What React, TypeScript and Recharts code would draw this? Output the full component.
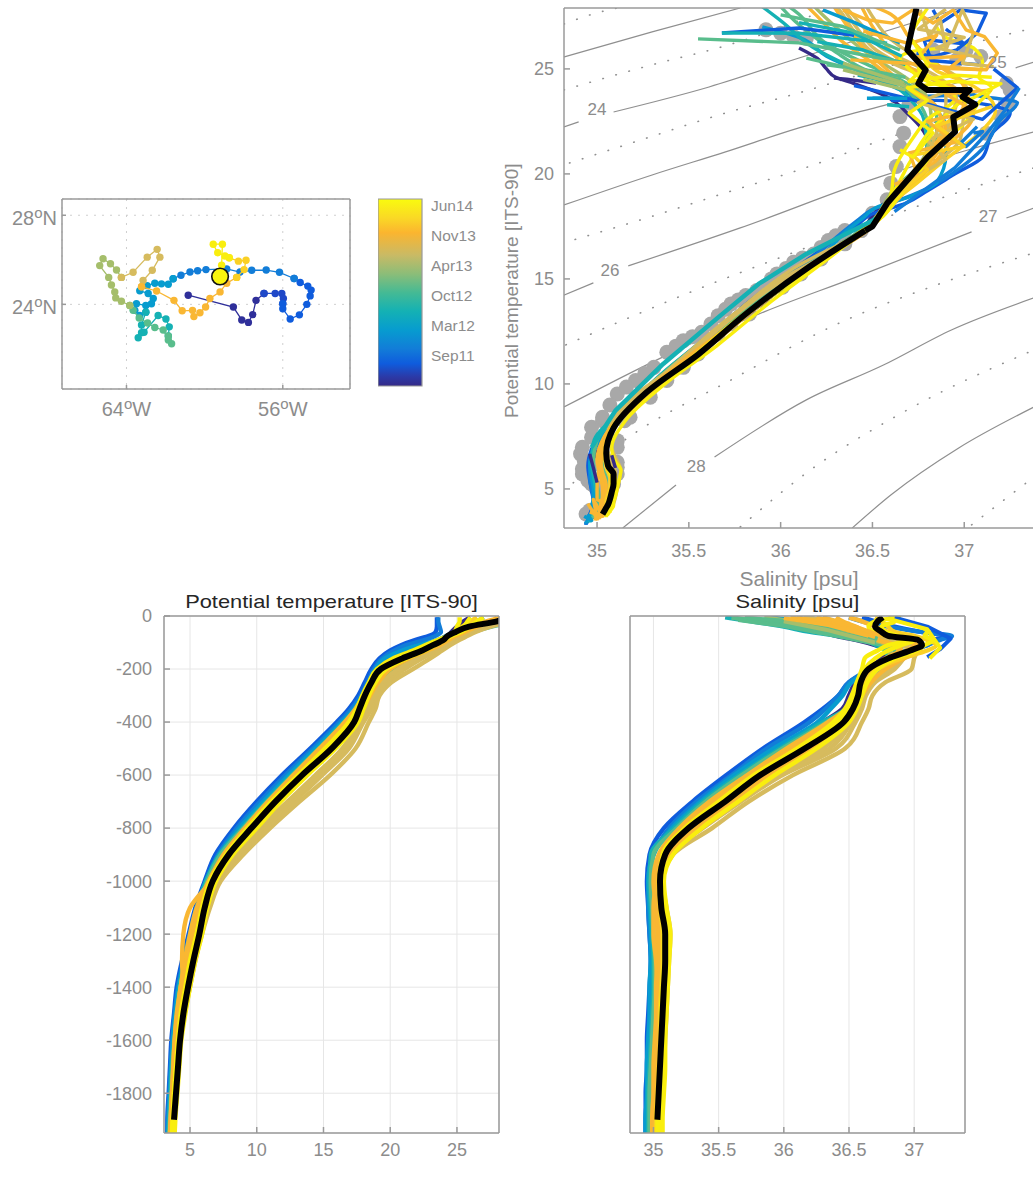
import {
  Bar,
  BarChart,
  CartesianGrid,
  ComposedChart,
  Line,
  ReferenceDot,
  Scatter,
  XAxis,
  YAxis,
} from "recharts";

const FONT = '"Liberation Sans", Arial, sans-serif';
const GREY = "#8c8c8c";
const AXIS = "#9a9a9a";

const PURPLE = "#352a87";
const BLUE = "#0f5cdd";
const AZURE = "#127dd8";
const CYAN = "#079ccf";
const TEAL = "#15b1b4";
const GREEN = "#59bd8c";
const SAGE = "#a5be6b";
const TAN = "#d6bb5e";
const ORANGE = "#f9b733";
const GOLD = "#fad025";
const YELLOW = "#f9ee0e";

type Pt = [number, number];

// colorbar
const cbarStops = [
  [0, "#f9fb0e"],
  [0.1, "#fad925"],
  [0.18, "#fbb52f"],
  [0.3, "#c9ba65"],
  [0.4, "#8cbd78"],
  [0.5, "#45ba94"],
  [0.6, "#14b1b4"],
  [0.7, "#079ccf"],
  [0.8, "#127dd8"],
  [0.88, "#0f5cdd"],
  [0.95, "#2b3aa8"],
  [1, "#352a87"],
] as const;
const cbarTicks = [200, 400, 600, 800, 1000, 1200];
const cbarLabels = ["Sep11", "Mar12", "Oct12", "Apr13", "Nov13", "Jun14"];

// float track, lon / lat
const trackPurple: Pt[] = [[-60.84, 24.41], [-58.53, 23.88], [-58.1, 23.3], [-57.76, 23.19], [-57.54, 23.54], [-57.37, 24.18], [-56.96, 24.49]];
const trackIndigo: Pt[] = [[-56.96, 24.49], [-56.39, 24.49], [-56.05, 24.49], [-55.97, 24.26], [-56.0, 24.03]];
const trackBlue: Pt[] = [[-56.0, 24.03], [-56.0, 23.8], [-55.62, 23.34], [-55.15, 23.53], [-54.77, 24.0], [-54.6, 24.38], [-54.55, 24.64], [-54.72, 24.82], [-55.11, 24.98], [-55.42, 25.16]];
const trackAzure: Pt[] = [[-55.42, 25.16], [-56.17, 25.44], [-56.85, 25.54], [-57.59, 25.53], [-58.19, 25.45], [-58.87, 25.59], [-59.93, 25.56], [-60.36, 25.51], [-60.75, 25.45], [-61.21, 25.31], [-61.61, 25.15]];
const trackCyan: Pt[] = [[-61.61, 25.15], [-61.86, 24.9], [-62.21, 24.92], [-62.55, 24.95], [-62.94, 24.84], [-63.32, 24.61], [-62.89, 24.49], [-62.63, 24.26], [-62.72, 24.03], [-63.01, 23.95], [-63.49, 24.03], [-63.57, 23.73], [-63.32, 23.5], [-63.01, 23.65]];
const trackTeal: Pt[] = [[-63.01, 23.65], [-63.23, 23.07], [-63.23, 22.73], [-63.4, 22.5], [-63.1, 22.75], [-62.38, 23.5], [-61.98, 23.34], [-61.81, 22.99], [-61.86, 22.58]];
const trackGreen: Pt[] = [[-61.86, 22.58], [-61.69, 22.23], [-61.86, 22.4], [-62.12, 22.85], [-62.55, 22.96], [-62.92, 23.16], [-63.35, 23.39], [-63.66, 23.73], [-63.83, 23.95]];
const trackSage: Pt[] = [[-63.83, 23.95], [-64.26, 24.14], [-64.55, 24.29], [-64.6, 24.56], [-64.77, 24.87], [-64.91, 25.21], [-65.37, 25.74], [-65.2, 26.05], [-64.82, 25.82], [-64.51, 25.54], [-64.26, 25.21]];
const trackTan: Pt[] = [[-64.26, 25.21], [-63.66, 25.44], [-62.94, 26.12], [-62.43, 26.47], [-62.29, 26.12], [-62.68, 25.53], [-63.15, 25.07], [-63.23, 24.79]];
const trackOrange: Pt[] = [[-63.23, 24.79], [-62.46, 24.6], [-61.57, 24.18], [-61.15, 23.71], [-60.62, 23.73], [-60.55, 23.45], [-60.24, 23.62], [-59.95, 23.88], [-59.73, 24.26], [-59.21, 24.56], [-58.87, 24.95], [-58.36, 25.21]];
const trackGold: Pt[] = [[-58.36, 25.21], [-57.98, 25.56], [-57.88, 25.98], [-58.27, 25.94], [-58.74, 26.09]];
const trackYellow: Pt[] = [[-58.74, 26.09], [-58.96, 26.17], [-59.33, 26.32], [-59.56, 26.7], [-59.09, 26.7], [-59.13, 25.76], [-59.21, 25.25]];
const floatNow: Pt[] = [[-59.21, 25.25]];

const trackParts: [Pt[], string][] = [
  [trackPurple, "#2f2f9a"],
  [trackIndigo, "#1f48c8"],
  [trackBlue, BLUE],
  [trackAzure, AZURE],
  [trackCyan, CYAN],
  [trackTeal, TEAL],
  [trackGreen, GREEN],
  [trackSage, SAGE],
  [trackTan, TAN],
  [trackOrange, ORANGE],
  [trackGold, GOLD],
  [trackYellow, YELLOW],
];

// profile levels, m
const depthLevels = [-5, -20, -40, -60, -75, -90, -110, -130, -160, -200, -250, -300, -350, -400, -500, -600, -700, -800, -900, -1000, -1100, -1200, -1300, -1400, -1500, -1600, -1700, -1800, -1900, -1950];

const meanTemp = [29.0, 28.0, 25.9, 24.9, 24.3, 24.0, 23.2, 22.4, 20.9, 19.3, 18.6, 18.1, 17.7, 17.3, 15.6, 13.4, 11.4, 9.6, 7.9, 6.7, 6.1, 5.7, 5.25, 4.85, 4.5, 4.25, 4.1, 3.95, 3.8];
const meanSal = [36.76, 36.72, 36.7, 36.75, 36.8, 37.03, 37.06, 36.97, 36.8, 36.65, 36.59, 36.57, 36.53, 36.46, 36.16, 35.82, 35.55, 35.27, 35.09, 35.05, 35.06, 35.09, 35.09, 35.08, 35.07, 35.06, 35.05, 35.04, 35.03];
// the mean's upper part as it reads on the T-S diagram
const meanTsUpper: Pt[] = [[36.74, 27.9], [36.69, 25.9], [36.79, 24.95], [36.75, 24.3], [36.8, 24.0], [37.03, 24.0], [36.99, 23.67], [37.06, 23.3], [36.94, 22.7], [36.95, 22.0], [36.8, 20.8], [36.58, 18.6], [36.5, 17.5], [36.46, 17.3]];

const tempPurple = [26, 25.5, 25, 24.6, 24.3, 23.8, 22.8, 21.5, 20, 19, 18.5, 18, 17.4, 16.5, 14.5, 12.5, 10.7, 9, 7.4, 6.6, 6.3, 5.8, 5.2, 4.6, 4.2, 3.9, 3.7, 3.6, 3.5, 3.45];
const salPurple = [36.1, 36.2, 36.25, 36.3, 36.4, 36.55, 36.7, 36.8, 36.75, 36.65, 36.55, 36.5, 36.45, 36.3, 36, 35.7, 35.4, 35.18, 35.05, 34.99, 34.97, 34.98, 35, 35, 35, 35, 34.98, 34.97, 34.96, 34.96];
const tempBlue = [23.5, 23.5, 23.5, 23.4, 22.9, 21.9, 20.8, 20.0, 19.2, 18.6, 18.1, 17.6, 16.9, 16.0, 14.0, 11.9, 10.0, 8.3, 6.9, 6.1, 5.4, 4.9, 4.4, 4.0, 3.8, 3.6, 3.5, 3.4, 3.3, 3.3];
const salBlue = [36.6, 36.7, 36.85, 37.05, 37.25, 37.15, 37.1, 36.95, 36.8, 36.68, 36.5, 36.42, 36.3, 36.16, 35.84, 35.56, 35.3, 35.08, 34.97, 34.95, 34.96, 34.97, 34.98, 34.97, 34.96, 34.95, 34.95, 34.94, 34.94, 34.94];
const tempAzure = [23.6, 23.6, 23.7, 23.8, 23.4, 22.6, 21.2, 20.3, 19.4, 18.8, 18.3, 17.8, 17.1, 16.2, 14.2, 12.15, 10.25, 8.5, 7.1, 6.2, 5.5, 5.0, 4.5, 4.1, 3.85, 3.7, 3.55, 3.45, 3.35, 3.3];
const salAzure = [36.5, 36.6, 36.8, 37.05, 37.29, 37.2, 37.1, 36.98, 36.82, 36.66, 36.5, 36.42, 36.32, 36.2, 35.87, 35.6, 35.33, 35.12, 35.0, 34.96, 34.96, 34.97, 34.98, 34.98, 34.97, 34.96, 34.95, 34.95, 34.94, 34.94];
const tempCyan = [27, 26.5, 25.6, 24.8, 24.2, 23.6, 22.2, 20.9, 19.6, 18.9, 18.4, 17.9, 17.3, 16.4, 14.4, 12.4, 10.5, 8.7, 7.2, 6.2, 5.5, 5.0, 4.55, 4.15, 3.9, 3.7, 3.6, 3.5, 3.4, 3.35];
const salCyan = [35.9, 36.1, 36.25, 36.45, 36.6, 36.75, 36.9, 36.9, 36.85, 36.7, 36.52, 36.45, 36.36, 36.26, 35.92, 35.62, 35.36, 35.14, 35.0, 34.96, 34.97, 34.98, 34.98, 34.97, 34.97, 34.96, 34.95, 34.95, 34.94, 34.94];
const tempTeal = [30, 28.9, 27.3, 25.9, 25.0, 24.3, 23.5, 22.6, 20.9, 19.6, 18.9, 18.1, 17.4, 16.5, 14.6, 12.6, 10.7, 8.9, 7.2, 6.2, 5.6, 5.1, 4.6, 4.2, 4.0, 3.8, 3.65, 3.55, 3.45, 3.4];
const salTeal = [35.55, 35.75, 36.0, 36.2, 36.41, 36.6, 36.71, 36.78, 36.8, 36.7, 36.6, 36.55, 36.48, 36.3, 35.97, 35.66, 35.38, 35.16, 34.98, 34.97, 34.98, 34.99, 35.0, 35.0, 34.99, 34.98, 34.97, 34.96, 34.96, 34.96];
const tempGreen2 = [30, 28.8, 27.1, 25.8, 25, 24.4, 23.4, 22.5, 21, 19.7, 19, 18.3, 17.6, 16.7, 14.7, 12.7, 10.8, 9, 7.3, 6.3, 5.7, 5.2, 4.7, 4.3, 4.05, 3.85, 3.7, 3.6, 3.5, 3.45];
const salGreen2 = [35.7, 35.9, 36.1, 36.3, 36.45, 36.62, 36.75, 36.8, 36.82, 36.7, 36.6, 36.55, 36.48, 36.33, 35.99, 35.68, 35.4, 35.18, 35.0, 34.98, 34.99, 35, 35.01, 35.01, 35, 34.99, 34.98, 34.97, 34.97, 34.97];
const tempSage = [30.5, 29.4, 27.6, 26.2, 25.3, 24.5, 23.6, 22.8, 21.5, 20.3, 19.3, 18.6, 18.0, 17.4, 15.4, 13.4, 11.6, 9.9, 8.2, 6.9, 6.1, 5.5, 5.0, 4.6, 4.3, 4.1, 3.9, 3.8, 3.7, 3.65];
const salSage = [35.6, 35.8, 36.1, 36.25, 36.45, 36.65, 36.8, 36.85, 36.85, 36.75, 36.62, 36.59, 36.55, 36.48, 36.13, 35.83, 35.57, 35.32, 35.12, 35.03, 35.03, 35.05, 35.05, 35.05, 35.04, 35.03, 35.02, 35.01, 35.0, 35.0];
const tempSage2 = [30, 29, 27.4, 26.1, 25.3, 24.6, 23.6, 22.7, 21.2, 19.9, 19.1, 18.5, 17.9, 17.1, 15.2, 13.1, 11.3, 9.6, 8, 6.8, 6, 5.4, 4.9, 4.5, 4.2, 4, 3.85, 3.75, 3.65, 3.6];
const salSage2 = [35.85, 36.05, 36.25, 36.42, 36.55, 36.68, 36.8, 36.82, 36.8, 36.7, 36.6, 36.56, 36.52, 36.42, 36.1, 35.78, 35.52, 35.28, 35.1, 35.02, 35.02, 35.04, 35.04, 35.04, 35.03, 35.02, 35.01, 35, 34.99, 34.99];
const tempTan1 = [30, 29, 27.5, 26.4, 25.8, 25.2, 24.5, 23.9, 23.0, 21.7, 20.1, 19.2, 18.9, 18.4, 17.4, 15.5, 13.2, 11.0, 9.0, 7.3, 6.5, 5.9, 5.4, 5.0, 4.6, 4.3, 4.1, 4.0, 3.85, 3.8];
const salTan1 = [36.3, 36.4, 36.5, 36.6, 36.7, 36.85, 36.98, 37.02, 37.0, 36.98, 36.78, 36.68, 36.65, 36.6, 36.47, 36.07, 35.73, 35.45, 35.15, 35.07, 35.1, 35.13, 35.12, 35.11, 35.1, 35.09, 35.08, 35.07, 35.06, 35.06];
const tempTan2 = [29.5, 28.5, 27, 26, 25.4, 24.9, 24.2, 23.5, 22.4, 21.1, 19.7, 19.0, 18.6, 18.0, 16.9, 14.9, 12.8, 10.6, 8.7, 7.1, 6.3, 5.7, 5.2, 4.8, 4.5, 4.25, 4.1, 3.95, 3.8, 3.75];
const salTan2 = [36.2, 36.3, 36.45, 36.55, 36.68, 36.8, 36.92, 36.96, 36.92, 36.85, 36.7, 36.63, 36.6, 36.55, 36.4, 35.99, 35.67, 35.38, 35.12, 35.05, 35.08, 35.1, 35.1, 35.09, 35.08, 35.07, 35.06, 35.05, 35.04, 35.04];
const tempTan3 = [29, 28, 26.8, 25.8, 25.1, 24.6, 23.9, 23.1, 22.0, 20.6, 19.4, 18.8, 18.3, 17.7, 16.4, 14.4, 12.3, 10.2, 8.4, 7.0, 6.2, 5.6, 5.1, 4.7, 4.4, 4.2, 4.05, 3.9, 3.75, 3.7];
const salTan3 = [36.15, 36.3, 36.4, 36.5, 36.65, 36.8, 36.9, 36.9, 36.85, 36.78, 36.65, 36.6, 36.55, 36.5, 36.3, 35.92, 35.62, 35.33, 35.1, 35.04, 35.07, 35.09, 35.08, 35.07, 35.06, 35.05, 35.04, 35.03, 35.02, 35.02];
const tempTan4 = [29.2, 28.3, 26.9, 25.9, 25.2, 24.7, 24, 23.3, 22.2, 20.9, 19.55, 18.9, 18.45, 17.85, 16.65, 14.65, 12.55, 10.4, 8.55, 7.05, 6.25, 5.65, 5.15, 4.75, 4.45, 4.2, 4.05, 3.9, 3.75, 3.7];
const salTan4 = [36.18, 36.3, 36.42, 36.52, 36.66, 36.8, 36.92, 36.95, 36.9, 36.82, 36.68, 36.62, 36.58, 36.52, 36.35, 35.96, 35.65, 35.36, 35.11, 35.05, 35.08, 35.1, 35.09, 35.08, 35.07, 35.06, 35.05, 35.04, 35.03, 35.03];
const tempOrange1 = [28.5, 27.2, 26, 25.2, 24.4, 23.9, 23.0, 22, 20.4, 19.2, 18.6, 18.0, 17.4, 16.6, 14.7, 12.75, 10.85, 9.1, 7.5, 6.4, 5.5, 5.0, 4.6, 4.3, 4.0, 3.85, 3.75, 3.65, 3.55, 3.5];
const salOrange1 = [36.25, 36.35, 36.45, 36.55, 36.65, 36.72, 36.85, 36.9, 36.8, 36.65, 36.58, 36.53, 36.48, 36.34, 36.02, 35.72, 35.43, 35.2, 35.04, 35.0, 35.02, 35.03, 35.03, 35.02, 35.02, 35.01, 35.0, 35.0, 34.99, 34.99];
const tempOrange2 = [29, 27.8, 26.4, 25.4, 24.7, 24.1, 23.4, 22.5, 21, 19.6, 18.9, 18.3, 17.7, 17, 15.0, 13.05, 11.1, 9.35, 7.7, 6.55, 5.8, 5.2, 4.75, 4.4, 4.1, 3.9, 3.8, 3.7, 3.6, 3.6];
const salOrange2 = [36.4, 36.45, 36.55, 36.65, 36.78, 36.95, 37.0, 36.95, 36.82, 36.7, 36.62, 36.56, 36.5, 36.4, 36.07, 35.77, 35.5, 35.24, 35.07, 35.02, 35.03, 35.05, 35.05, 35.04, 35.04, 35.03, 35.02, 35.02, 35.01, 35.01];
const tempOrange3 = [28, 27.6, 26.5, 25.6, 24.9, 24.4, 23.7, 22.8, 21.4, 20, 19.1, 18.5, 18, 17.5, 15.8, 13.7, 11.7, 9.85, 8.1, 6.6, 5.0, 4.5, 4.4, 4.5, 4.4, 4.2, 4, 3.85, 3.7, 3.65];
const salOrange3 = [36.5, 36.6, 36.7, 36.8, 36.9, 36.98, 37.02, 37.05, 36.92, 36.78, 36.67, 36.6, 36.55, 36.5, 36.2, 35.88, 35.6, 35.33, 35.11, 35.03, 35.0, 35.0, 35.02, 35.03, 35.04, 35.03, 35.03, 35.02, 35.02, 35.02];
const tempOrange4 = [28.8, 27.5, 26.2, 25.3, 24.5, 24, 23.2, 22.2, 20.7, 19.4, 18.7, 18.1, 17.5, 16.8, 14.85, 12.9, 10.95, 9.2, 7.6, 6.45, 5.6, 5.1, 4.65, 4.3, 4.05, 3.85, 3.75, 3.65, 3.55, 3.5];
const salOrange4 = [36.05, 36.2, 36.35, 36.5, 36.62, 36.72, 36.85, 36.88, 36.78, 36.67, 36.6, 36.55, 36.49, 36.37, 36.04, 35.74, 35.46, 35.22, 35.05, 35.01, 35.02, 35.04, 35.04, 35.03, 35.03, 35.02, 35.01, 35.01, 35, 35];
const tempGold = [26.5, 26, 25.4, 24.9, 24.4, 23.9, 23, 22.1, 20.7, 19.4, 18.7, 18.2, 17.7, 17.2, 15.5, 13.3, 11.3, 9.5, 7.85, 6.65, 6.0, 5.5, 5.1, 4.75, 4.45, 4.2, 4.0, 3.9, 3.75, 3.7];
const salGold = [36.7, 36.75, 36.8, 36.85, 37.0, 37.1, 37.17, 37.1, 36.9, 36.72, 36.62, 36.58, 36.52, 36.45, 36.14, 35.8, 35.52, 35.26, 35.08, 35.04, 35.05, 35.07, 35.07, 35.06, 35.05, 35.05, 35.04, 35.03, 35.02, 35.02];
const tempYellow1 = [25.2, 25.2, 25.0, 24.8, 24.3, 23.6, 22.6, 21.7, 20.2, 19.0, 18.4, 17.9, 17.5, 16.9, 15.1, 13.1, 11.1, 9.3, 7.7, 6.5, 5.9, 5.5, 5.05, 4.7, 4.35, 4.1, 3.95, 3.8, 3.7, 3.65];
const salYellow1 = [36.8, 36.85, 36.75, 36.78, 36.88, 36.95, 36.8, 36.72, 36.62, 36.6, 36.56, 36.52, 36.47, 36.38, 36.1, 35.77, 35.5, 35.24, 35.07, 35.05, 35.07, 35.1, 35.1, 35.09, 35.08, 35.07, 35.07, 35.06, 35.05, 35.05];
const tempYellow2 = [27, 26.5, 26, 25.3, 24.6, 24.1, 23.4, 22.6, 21.2, 19.7, 18.9, 18.4, 18, 17.6, 15.9, 13.8, 11.8, 10.0, 8.2, 6.95, 6.3, 5.9, 5.4, 5.0, 4.65, 4.35, 4.2, 4.05, 3.9, 3.85];
const salYellow2 = [36.85, 36.9, 37.05, 37.1, 37.08, 37.15, 37.08, 37.02, 36.85, 36.72, 36.64, 36.6, 36.56, 36.5, 36.25, 35.93, 35.65, 35.37, 35.15, 35.08, 35.1, 35.13, 35.12, 35.11, 35.1, 35.09, 35.09, 35.08, 35.07, 35.07];
const tempYellow3 = [26, 25.8, 25.5, 25, 24.4, 23.8, 22.8, 21.9, 20.5, 19.2, 18.5, 18, 17.6, 17.05, 15.3, 13.2, 11.2, 9.4, 7.8, 6.6, 6, 5.5, 5, 4.65, 4.3, 4.1, 3.95, 3.8, 3.7, 3.65];
const salYellow3 = [36.9, 36.7, 36.65, 36.7, 36.8, 37, 36.9, 36.8, 36.7, 36.62, 36.57, 36.54, 36.49, 36.42, 36.12, 35.78, 35.51, 35.25, 35.08, 35.05, 35.06, 35.08, 35.08, 35.07, 35.06, 35.06, 35.05, 35.04, 35.03, 35.03];

const profiles: [string, number[], number[]][] = [
  [PURPLE, tempPurple, salPurple],
  [BLUE, tempBlue, salBlue],
  [AZURE, tempAzure, salAzure],
  [CYAN, tempCyan, salCyan],
  [TEAL, tempTeal, salTeal],
  [GREEN, tempGreen2, salGreen2],
  [GREEN, tempSage, salSage],
  [SAGE, tempSage2, salSage2],
  [TAN, tempTan1, salTan1],
  [TAN, tempTan2, salTan2],
  [TAN, tempTan4, salTan4],
  [TAN, tempTan3, salTan3],
  [ORANGE, tempOrange1, salOrange1],
  [ORANGE, tempOrange4, salOrange4],
  [ORANGE, tempOrange3, salOrange3],
  [ORANGE, tempOrange2, salOrange2],
  [GOLD, tempGold, salGold],
  [YELLOW, tempYellow1, salYellow1],
  [YELLOW, tempYellow3, salYellow3],
  [YELLOW, tempYellow2, salYellow2],
];

// near-surface salinity strands, salinity / depth
const salFanBlue: Pt[] = [[36.85, -6], [37.1, -40], [37.28, -85], [37.2, -125], [37.1, -155]];
const salFanGreen1: Pt[] = [[35.6, -8], [36.0, -25], [36.4, -60], [36.71, -95]];
const salFanGreen2: Pt[] = [[35.65, -15], [36.0, -38], [36.4, -75], [36.7, -105]];
const salFanGreen3: Pt[] = [[35.75, -8], [36.1, -22], [36.5, -55], [36.72, -85]];
const salFanSage: Pt[] = [[36.0, -20], [36.35, -55], [36.7, -100]];
const salFanOrange1: Pt[] = [[36.1, -6], [36.4, -30], [36.7, -80]];
const salFanOrange2: Pt[] = [[36.3, -6], [36.55, -40], [36.75, -75]];
const salFanOrange3: Pt[] = [[36.0, -8], [36.35, -35], [36.65, -75]];
const salFanYellow: Pt[] = [[36.8, -10], [37.1, -50], [37.2, -120], [37.12, -160]];
const salStrands: [Pt[], string][] = [
  [salFanBlue, BLUE],
  [salFanGreen1, GREEN],
  [salFanGreen2, GREEN],
  [salFanGreen3, GREEN],
  [salFanSage, SAGE],
  [salFanOrange1, ORANGE],
  [salFanOrange2, ORANGE],
  [salFanOrange3, ORANGE],
  [salFanYellow, YELLOW],
];

// extra near-surface wiggles on the T-S diagram
const fanGreen1: Pt[] = [[35.55, 26.43], [36.1, 26.24], [36.69, 25.27]];
const fanBlue1: Pt[] = [[35.68, 26.71], [36.1, 26.95], [36.4, 26.6]];
const fanTeal1: Pt[] = [[35.68, 26.71], [36.1, 26.7], [36.58, 26.23]];
const fanGreen3: Pt[] = [[36, 27.57], [36.34, 27.02], [36.65, 25.9]];
const fanCyan1: Pt[] = [[36.23, 27.81], [36.41, 27.18], [36.65, 26.23]];
const fanTeal2: Pt[] = [[36.1, 27.2], [36.4, 26.7], [36.66, 25.6]];
const fanTeal3: Pt[] = [[36.2, 26.3], [36.45, 25.9], [36.68, 25.2]];
const fanTeal4: Pt[] = [[36.42, 24.7], [36.68, 24.2]];
const fanGreen2: Pt[] = [[36.14, 25.51], [36.65, 24.48]];
const fanGreen4: Pt[] = [[36.25, 25.2], [36.5, 24.9], [36.68, 24.6]];
const fanSage1: Pt[] = [[36.34, 25.27], [36.67, 24.32]];
const fanSage2: Pt[] = [[36.34, 24.96], [36.69, 24.16]];
const fanSage3: Pt[] = [[36.45, 24.5], [36.68, 24.0]];
const fanCyan2: Pt[] = [[36.47, 23.6], [36.69, 23.6]];
const fanTeal5: Pt[] = [[36.58, 23.29], [36.7, 23.2]];
const fanPurple: Pt[] = [[36.29, 24.56], [36.36, 24.51], [36.52, 24.32]];
const deepPurple1: Pt[] = [[34.96, 6.67], [34.98, 6.0], [35.0, 5.3]];
const deepPurple2: Pt[] = [[35.08, 6.6], [35.1, 6.0]];
const wiggleBlue1: Pt[] = [[36.83, 27.81], [36.87, 27.18], [36.98, 27.81], [37.12, 27.65], [37.07, 26.7], [36.96, 25.91], [36.83, 25.59], [36.74, 25.75]];
const wiggleBlue3: Pt[] = [[36.9, 26.9], [37.0, 26.2], [36.78, 26.4], [36.82, 25.4], [37.08, 25.2]];
const wiggleAzure: Pt[] = [[36.4, 24.2], [36.5, 24.0], [36.69, 23.6], [37.1, 22.6], [37.29, 24.1], [37.16, 25.0]];
const wiggleAzure2: Pt[] = [[36.62, 18.2], [36.95, 20.3], [37.12, 21.9], [37.22, 23], [37.3, 24.1]];
const wiggleBlue2: Pt[] = [[37.05, 21.94], [37.1, 22.02], [37.01, 21.3], [36.98, 21.46], [37.07, 22.25]];
const wiggleTealMid: Pt[] = [[34.97, 6.98], [35.1, 8.73], [35.36, 10.95], [35.66, 13.17], [35.88, 14.76], [36.14, 16.19], [36.52, 17.86]];
const wiggleTan: Pt[] = [[36.76, 27.81], [36.81, 26.54], [36.87, 27.34], [36.9, 25.91], [36.99, 27.81], [37.05, 26.7], [36.99, 25.27], [37.16, 25.1]];
const wiggleTan2: Pt[] = [[36.65, 19.4], [36.9, 20.7], [36.8, 21.6], [37.05, 22.6], [36.75, 23.4], [36.95, 24.1]];
const wiggleTan3: Pt[] = [[36.9, 27.85], [36.75, 26.9], [37.0, 26.5], [36.85, 26], [37.1, 25.5]];
const wiggleOrange1: Pt[] = [[36.34, 27.81], [36.47, 27.34], [36.61, 27.18], [36.72, 27.81], [36.83, 27.18], [36.94, 27.81], [37.01, 26.86], [37.11, 26.54], [37.18, 25.75], [37.12, 24.96], [36.83, 25.04]];
const wiggleOrange2: Pt[] = [[36.38, 25.43], [36.69, 25.27], [36.87, 25.1], [37.1, 24.96]];
const wiggleOrange3: Pt[] = [[36.62, 19.5], [36.75, 19.9], [36.7, 21], [36.95, 21.5], [36.8, 22.5], [37.05, 23], [36.9, 23.8], [37.15, 24]];
const wiggleOrange4: Pt[] = [[36.45, 26.8], [36.7, 26.2], [36.85, 26.6], [36.75, 25.5], [37, 25.6], [36.9, 24.9]];
const wiggleOrangeDeep: Pt[] = [[34.95, 4.3], [35.0, 3.6], [34.98, 4.5], [35.03, 3.7], [34.96, 3.9]];
const wiggleCyanDeep: Pt[] = [[34.93, 3.7], [34.97, 3.5], [34.95, 3.8]];
const wiggleGold: Pt[] = [[36.58, 18.6], [36.8, 20.2], [36.72, 20.9], [37.0, 21.3], [36.85, 22.3], [37.15, 23.2]];
const wiggleYellow1: Pt[] = [[36.65, 21.15], [36.72, 20.8], [36.83, 21.95], [36.7, 22.9], [36.8, 23.5], [36.69, 24.1], [36.93, 24.4], [37.2, 24.3], [37.0, 23.4]];
const wiggleYellow2: Pt[] = [[36.8, 27.9], [36.7, 26.6], [36.8, 25.2], [36.7, 24.4], [36.95, 24.7], [37.15, 24.6]];

const tsWiggles: [Pt[], string][] = [
  [fanPurple, PURPLE],
  [deepPurple1, PURPLE],
  [deepPurple2, PURPLE],
  [wiggleBlue1, BLUE],
  [wiggleBlue3, BLUE],
  [fanBlue1, BLUE],
  [wiggleAzure, BLUE],
  [wiggleAzure2, AZURE],
  [wiggleBlue2, AZURE],
  [fanCyan1, CYAN],
  [fanCyan2, CYAN],
  [wiggleCyanDeep, CYAN],
  [fanTeal1, TEAL],
  [fanTeal2, TEAL],
  [fanTeal3, TEAL],
  [fanTeal4, TEAL],
  [fanTeal5, TEAL],
  [fanGreen1, GREEN],
  [fanGreen2, GREEN],
  [fanGreen3, GREEN],
  [fanGreen4, GREEN],
  [fanSage1, SAGE],
  [fanSage2, SAGE],
  [fanSage3, SAGE],
  [wiggleTan, TAN],
  [wiggleTan2, TAN],
  [wiggleTan3, TAN],
  [wiggleOrange1, ORANGE],
  [wiggleOrange2, ORANGE],
  [wiggleOrange3, ORANGE],
  [wiggleOrange4, ORANGE],
  [wiggleOrangeDeep, ORANGE],
  [wiggleTealMid, TEAL],
  [wiggleGold, GOLD],
  [wiggleYellow1, YELLOW],
  [wiggleYellow2, YELLOW],
];

// historical casts behind the float data
const climatologyDeep: Pt[] = [
  [34.94, 3.81], [34.96, 3.97], [35.01, 3.97], [35.01, 4.44], [35.05, 4.6], [34.99, 5.08], [35.03, 5.08], [35.05, 5.08], [35.09, 5.24], [34.97, 5.24], [34.95, 5.4],
  [34.92, 5.71], [35.08, 5.71], [35.11, 5.71], [34.92, 5.95], [35.11, 6.03], [34.93, 6.35], [35.11, 6.27], [34.91, 6.67], [34.92, 6.98], [35.11, 6.98], [35.11, 7.3],
  [34.97, 7.46], [34.97, 7.94], [35.03, 8.25], [35.15, 8.25], [35.0, 6.2], [35.02, 6.9], [35.05, 7.6],
];
const climatologyLeft: Pt[] = [
  [35.03, 8.41], [35.11, 9.52], [35.21, 10.16], [35.31, 10.79], [35.38, 11.51], [35.47, 12.06], [35.57, 12.46], [35.66, 13.25], [35.73, 13.81], [35.81, 14.21],
  [35.92, 14.68], [35.98, 15.24], [36.07, 15.79], [36.18, 16.19], [36.26, 16.83], [36.35, 17.3], [35.07, 9.0], [35.16, 9.85], [35.26, 10.5], [35.43, 11.8], [35.52, 12.25], [35.62, 12.85], [35.7, 13.55], [35.77, 14.0], [35.87, 14.45], [35.95, 15.0], [36.03, 15.5], [36.12, 16.0], [36.22, 16.5], [36.3, 17.05],
];
const climatologyRight: Pt[] = [
  [35.18, 8.41], [35.29, 9.37], [35.38, 10.16], [35.47, 10.79], [35.55, 11.43], [35.66, 12.38], [35.73, 12.86], [35.83, 13.33], [35.9, 13.97], [36.01, 14.6],
  [36.11, 15.24], [36.22, 15.95], [36.35, 16.67], [36.44, 17.3],
];
const climatologyUpper: Pt[] = [
  [36.5, 18.13], [36.58, 18.77], [36.6, 19.56], [36.63, 20.35], [36.65, 21.3], [36.67, 21.94], [36.65, 22.73], [36.7, 23.37], [37.12, 21.94], [37.2, 22.73], [37.24, 23.37], [37.25, 24.0], [37.23, 24.32],
  [35.92, 26.86], [36.0, 26.7], [36.07, 26.54], [36.14, 26.46], [37.01, 25.9], [37.09, 25.59], [36.96, 25.43], [36.83, 25.9],
];
const climatology = [...climatologyDeep, ...climatologyLeft, ...climatologyRight, ...climatologyUpper];

// density contours
const sigma23: Pt[] = [[34.82, 25.57], [35.3, 26.76], [35.78, 27.9]];
const sigma24a: Pt[] = [[34.82, 22.24], [34.9, 22.48]];
const sigma24b: Pt[] = [[35.09, 22.95], [35.61, 24.14], [36.1, 25.52], [36.98, 27.9]];
const sigma25a: Pt[] = [[34.82, 18.52], [35.3, 19.95], [35.7, 21.05], [36.1, 22.19], [36.61, 23.38], [37.09, 24.71]];
const sigma25b: Pt[] = [[37.28, 25.05], [37.38, 25.33]];
const sigma26a: Pt[] = [[34.81, 14.19], [34.98, 14.81]];
const sigma26b: Pt[] = [[35.17, 15.62], [35.78, 17.43], [36.54, 19.86], [37.02, 21.14], [37.38, 22.0]];
const sigma27a: Pt[] = [[34.82, 8.9], [35.36, 11.29], [35.91, 13.43], [36.4, 15.05], [37.04, 17.24]];
const sigma27b: Pt[] = [[37.23, 17.9], [37.38, 18.38]];
const sigma28a: Pt[] = [[35.14, 3.14], [35.43, 5.19]];
const sigma28b: Pt[] = [[35.64, 6.52], [36.14, 9.24], [36.56, 10.9], [36.93, 12.57], [37.38, 14.1]];
const sigma29: Pt[] = [[36.39, 3.14], [36.6, 4.71], [36.97, 6.95], [37.38, 8.9]];
const solidContours = [sigma23, sigma24a, sigma24b, sigma25a, sigma25b, sigma26a, sigma26b, sigma27a, sigma27b, sigma28a, sigma28b, sigma29];

const sigma225: Pt[] = [[34.82, 27.14], [35.0, 27.67], [35.11, 27.9]];
const sigma235: Pt[] = [[34.82, 24.0], [35.34, 25.29], [35.68, 26.05], [35.92, 26.71], [36.27, 27.9]];
const sigma245: Pt[] = [[34.85, 20.52], [35.19, 21.48], [35.7, 22.9], [36.1, 23.86], [36.28, 24.33], [37.16, 26.48], [37.38, 26.95]];
const sigma255: Pt[] = [[34.81, 16.7], [35.27, 17.9], [35.7, 19.1], [36.1, 20.19], [36.6, 21.76], [37.23, 23.52], [37.38, 23.86]];
const sigma265: Pt[] = [[34.83, 11.86], [35.58, 14.62], [36.08, 16.29], [36.58, 17.95], [37.38, 20.29]];
const sigma275: Pt[] = [[34.87, 5.29], [35.13, 7.19], [35.73, 10.19], [36.32, 12.9], [36.88, 14.81], [37.38, 16.24]];
const sigma285: Pt[] = [[35.78, 3.19], [36.14, 5.76], [36.69, 8.76], [37.38, 11.62]];
const sigma295: Pt[] = [[37.04, 3.29], [37.38, 5.57]];
const dottedContours = [sigma225, sigma235, sigma245, sigma255, sigma265, sigma275, sigma285, sigma295];

const contourLabels: [number, number, string][] = [
  [35.0, 23.1, "24"],
  [37.18, 25.33, "25"],
  [35.07, 15.45, "26"],
  [37.13, 18.0, "27"],
  [35.54, 6.1, "28"],
];

const salTicks = [35, 35.5, 36, 36.5, 37];
const tempTicks = [5, 10, 15, 20, 25];
const depthTicks = [-1800, -1600, -1400, -1200, -1000, -800, -600, -400, -200, 0];
const lonTicks = [-64, -56];
const latTicks = [24, 28];

const toRows = (pts: Pt[]) => pts.map(([x, y]) => ({ x, y }));
const depthRows = (values: number[]) => values.map((x, i) => ({ x, y: depthLevels[i] }));
const tsRows = (temp: number[], sal: number[]) => temp.map((y, i) => ({ x: sal[i], y }));

const tickStyle = { fill: GREY, fontSize: 18, fontFamily: FONT };

function GeoTick({ x, y, payload, suffix, anchor, shift = 0 }: any) {
  const v = Math.abs(payload.value);
  return (
    <text x={x} y={y + shift} textAnchor={anchor} fill={GREY} fontSize={20} fontFamily={FONT}>
      <tspan>{v}</tspan>
      <tspan dy={-7} fontSize={15}>o</tspan>
      <tspan dy={7}>{suffix}</tspan>
    </text>
  );
}

// top and right edges of the box, with inward ticks and no labels
function boxAxes(xTicks: number[], xDomain: number[], yTicks: number[], yDomain: number[], tick = 6) {
  return [
    <XAxis
      key="top"
      xAxisId="top"
      orientation="top"
      type="number"
      height={1}
      domain={xDomain}
      ticks={xTicks}
      interval={0}
      tick={false}
      tickSize={-tick}
      stroke={AXIS}
      strokeWidth={1.5}
      allowDataOverflow
    />,
    <YAxis
      key="right"
      yAxisId="right"
      orientation="right"
      type="number"
      width={1}
      domain={yDomain}
      ticks={yTicks}
      interval={0}
      tick={false}
      tickSize={-tick}
      stroke={AXIS}
      strokeWidth={1.5}
      allowDataOverflow
    />,
  ];
}

function MapPanel() {
  const xDomain = [-67.3, -52.56];
  const yDomain = [20.2, 28.73];
  return (
    <div style={{ position: "absolute", left: 4, top: 195 }}>
      <ComposedChart width={350} height={234} margin={{ top: 3, right: 3, bottom: 0, left: 0 }}>
        <CartesianGrid stroke="#cfcfcf" strokeDasharray="2 6" />
        <XAxis
          dataKey="x"
          type="number"
          domain={xDomain}
          ticks={lonTicks}
          interval={0}
          height={40}
          stroke={AXIS}
          strokeWidth={1.5}
          tickSize={-4}
          tickMargin={31}
          tick={<GeoTick suffix="W" anchor="middle" />}
          allowDataOverflow
        />
        <YAxis
          dataKey="y"
          type="number"
          domain={yDomain}
          ticks={latTicks}
          interval={0}
          width={58}
          stroke={AXIS}
          strokeWidth={1.5}
          tickSize={-4}
          tickMargin={9}
          tick={<GeoTick suffix="N" anchor="end" shift={10} />}
          allowDataOverflow
        />
        {boxAxes(lonTicks, xDomain, latTicks, yDomain, 4)}
        {trackParts.map(([pts, color], i) => (
          <Scatter
            key={i}
            data={toRows(pts)}
            fill={color}
            line={{ stroke: color, strokeWidth: 1.3 }}
            shape={(p: any) => <circle cx={p.cx} cy={p.cy} r={3.7} fill={color} />}
            isAnimationActive={false}
          />
        ))}
        <Scatter
          data={toRows(floatNow)}
          shape={(p: any) => <circle cx={p.cx} cy={p.cy} r={8.3} fill="#f9f50e" stroke="#111" strokeWidth={1.6} />}
          isAnimationActive={false}
        />
      </ComposedChart>
    </div>
  );
}

function ColorBar() {
  return (
    <div style={{ position: "absolute", left: 378, top: 195 }}>
      <BarChart
        width={100}
        height={195}
        data={[{ name: "time", span: 1240 }]}
        margin={{ top: 4, right: 0, bottom: 4, left: 0 }}
        barCategoryGap={0}
      >
        <defs>
          <linearGradient id="timeColors" x1="0" y1="0" x2="0" y2="1">
            {cbarStops.map(([offset, color]) => (
              <stop key={offset} offset={offset} stopColor={color} />
            ))}
          </linearGradient>
        </defs>
        <XAxis dataKey="name" hide />
        <YAxis
          orientation="right"
          type="number"
          width={56}
          domain={[0, 1240]}
          ticks={cbarTicks}
          interval={0}
          axisLine={false}
          tickLine={false}
          tickMargin={3}
          tickFormatter={(v: number) => cbarLabels[cbarTicks.indexOf(v)]}
          tick={{ fill: GREY, fontSize: 15.5, fontFamily: FONT }}
        />
        <Bar dataKey="span" fill="url(#timeColors)" stroke={AXIS} strokeWidth={1.2} isAnimationActive={false} />
      </BarChart>
    </div>
  );
}

function TsPanel() {
  const xDomain = [34.82, 37.38];
  const yDomain = [3.14, 27.9];
  return (
    <div style={{ position: "absolute", left: 494, top: 4 }}>
      <ComposedChart width={544} height={586} margin={{ top: 3, right: 3, bottom: 0, left: 0 }}>
        <XAxis
          dataKey="x"
          type="number"
          domain={xDomain}
          ticks={salTicks}
          interval={0}
          height={62}
          stroke={AXIS}
          strokeWidth={1.5}
          tickSize={-6}
          tickMargin={22}
          tick={tickStyle}
          allowDataOverflow
          label={{ value: "Salinity [psu]", position: "insideBottom", offset: 4, fill: GREY, fontSize: 21, fontFamily: FONT }}
        />
        <YAxis
          dataKey="y"
          type="number"
          domain={yDomain}
          ticks={tempTicks}
          interval={0}
          width={70}
          stroke={AXIS}
          strokeWidth={1.5}
          tickSize={-6}
          tickMargin={16}
          tick={tickStyle}
          allowDataOverflow
          label={{ value: "Potential temperature [ITS-90]", angle: -90, position: "insideLeft", offset: 17, dy: 150, fill: GREY, fontSize: 19, fontFamily: FONT }}
        />
        {boxAxes(salTicks, xDomain, tempTicks, yDomain)}
        {solidContours.map((pts, i) => (
          <Line key={"s" + i} data={toRows(pts)} dataKey="y" type="monotone" stroke="#8f8f8f" strokeWidth={1.2} dot={false} isAnimationActive={false} zIndex={100} />
        ))}
        {dottedContours.map((pts, i) => (
          <Line key={"d" + i} data={toRows(pts)} dataKey="y" type="monotone" stroke="#8f8f8f" strokeWidth={1.6} strokeLinecap="round" strokeDasharray="0.5 13" dot={false} isAnimationActive={false} zIndex={100} />
        ))}
        {contourLabels.map(([x, y, text]) => (
          <ReferenceDot key={text} x={x} y={y} r={0} stroke="none" label={{ value: text, fill: GREY, fontSize: 17, fontFamily: FONT }} />
        ))}
        <Scatter
          data={toRows(climatology)}
          shape={(p: any) => <circle cx={p.cx} cy={p.cy} r={7.5} fill="#a8a8a8" />}
          isAnimationActive={false}
          zIndex={150}
        />
        {profiles.map(([color, temp, sal], i) => (
          <Line key={"p" + i} data={tsRows(temp, sal)} dataKey="y" type="monotoneY" stroke={color} strokeWidth={3.4} dot={false} strokeLinejoin="round" isAnimationActive={false} zIndex={200} />
        ))}
        {tsWiggles.map(([pts, color], i) => (
          <Line key={"w" + i} data={toRows(pts)} dataKey="y" stroke={color} strokeWidth={pts === wiggleTealMid ? 4.5 : 3.4} dot={false} strokeLinejoin="round" isAnimationActive={false} zIndex={210} />
        ))}
        <Line data={toRows(meanTsUpper)} dataKey="y" stroke="#000" strokeWidth={6} dot={false} strokeLinejoin="round" isAnimationActive={false} zIndex={220} />
        <Line data={tsRows(meanTemp.slice(13), meanSal.slice(13))} dataKey="y" type="monotoneY" stroke="#000" strokeWidth={6} dot={false} strokeLinejoin="round" isAnimationActive={false} zIndex={220} />
      </ComposedChart>
    </div>
  );
}

function ProfilePanel({ left, plotLeft, plotWidth, xDomain, xTicks, title, pick, mean, showDepth, strands = [] }: any) {
  const yDomain = [-1950, 0];
  return (
    <div style={{ position: "absolute", left, top: 602 }}>
      <ComposedChart width={plotLeft + plotWidth + 4} height={565} margin={{ top: 13, right: 3, bottom: 0, left: 0 }}>
        <CartesianGrid stroke="#e6e6e6" />
        <XAxis
          dataKey="x"
          type="number"
          domain={xDomain}
          ticks={xTicks}
          interval={0}
          height={34}
          stroke={AXIS}
          strokeWidth={1.5}
          tickSize={-6}
          tickMargin={16}
          tick={tickStyle}
          allowDataOverflow
        />
        <YAxis
          dataKey="y"
          type="number"
          domain={yDomain}
          ticks={depthTicks}
          interval={0}
          width={plotLeft}
          stroke={AXIS}
          strokeWidth={1.5}
          tickSize={-6}
          tickMargin={18}
          tick={showDepth ? tickStyle : false}
          allowDataOverflow
        />
        {boxAxes(xTicks, xDomain, depthTicks, yDomain)}
        {profiles.map((p, i) => (
          <Line key={i} data={depthRows(pick(p))} dataKey="y" type="monotoneY" stroke={p[0]} strokeWidth={4.4} dot={false} strokeLinejoin="round" isAnimationActive={false} />
        ))}
        {strands.map(([pts, color]: [Pt[], string], i: number) => (
          <Line key={"x" + i} data={toRows(pts)} dataKey="y" stroke={color} strokeWidth={4} dot={false} strokeLinejoin="round" isAnimationActive={false} />
        ))}
        <Line data={depthRows(mean)} dataKey="y" type="monotoneY" stroke="#000" strokeWidth={6} dot={false} strokeLinejoin="round" isAnimationActive={false} />
      </ComposedChart>
      <div
        style={{
          position: "absolute",
          left: plotLeft,
          width: plotWidth,
          top: -11,
          textAlign: "center",
          fontFamily: FONT,
          fontSize: 19,
          lineHeight: "22px",
          color: "#262626",
          transform: "scaleX(1.15)",
        }}
      >
        {title}
      </div>
    </div>
  );
}

export default function App() {
  return (
    <div style={{ position: "absolute", left: 0, top: 0, width: 1033, height: 1180, overflow: "hidden", background: "#fff" }}>
      <MapPanel />
      <ColorBar />
      <TsPanel />
      <ProfilePanel
        left={104}
        plotLeft={60}
        plotWidth={335}
        xDomain={[3.05, 28.15]}
        xTicks={tempTicks}
        title="Potential temperature [ITS-90]"
        pick={(p: any) => p[1]}
        mean={meanTemp}
        showDepth
      />
      <ProfilePanel
        left={620}
        plotLeft={10}
        plotWidth={335}
        xDomain={[34.82, 37.39]}
        xTicks={salTicks}
        title="Salinity [psu]"
        pick={(p: any) => p[2]}
        mean={meanSal}
        strands={salStrands}
      />
    </div>
  );
}
